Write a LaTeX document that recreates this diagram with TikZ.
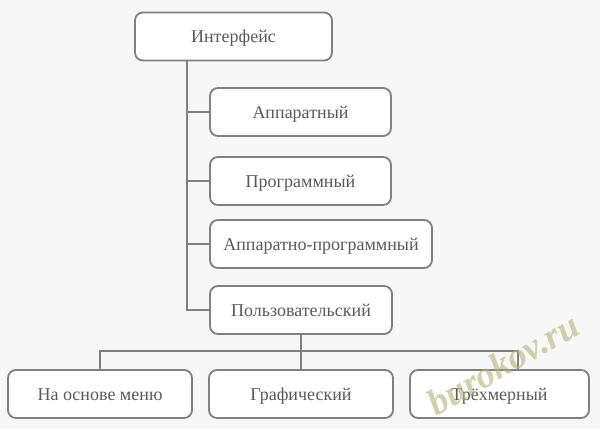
\documentclass[tikz,border=0pt]{standalone}
\usepackage{fontspec}
\setmainfont{Liberation Serif}
\definecolor{bg}{HTML}{F7F7F8}
\definecolor{edge}{HTML}{808080}
\definecolor{txt}{HTML}{5A5A5A}
\definecolor{wm}{HTML}{B4B27A}
\begin{document}
\begin{tikzpicture}[x=1pt,y=-1pt,
  box/.style={draw=edge, line width=1.8pt, fill=white, rounded corners=8pt,
    minimum height=48pt, inner sep=0pt, text=txt, text height=12pt, text depth=0pt,
    font=\fontsize{18}{20}\selectfont},
  conn/.style={draw=edge, line width=1.8pt}]
\fill[bg] (0,0) rectangle (600,429);
\useasboundingbox (0,0) rectangle (600,429);
\coordinate (trunk) at (187,0);
\coordinate (bus) at (301,351);
\coordinate (rd) at (518,370);
\node[box, minimum width=197pt] (intf) at (233.5,36.5) {Интерфейс};
\node[box, minimum width=181pt] (app) at (300.5,112) {Аппаратный};
\node[box, minimum width=181pt] (prog) at (300.5,181) {Программный};
\node[box, minimum width=222pt] (ap) at (321,244) {Аппаратно-программный};
\node[box, minimum width=182pt] (user) at (301,310) {Пользовательский};
\node[box, minimum width=184pt] (menu) at (100,394) {На основе меню};
\node[box, minimum width=184pt] (graph) at (301,394) {Графический};
\node[box, minimum width=179pt] (three) at (499.5,394) {Трёхмерный};
\draw[conn] (intf.south -| trunk) -- (trunk |- user.west) -- (user.west);
\draw[conn] (trunk |- app.west) -- (app.west);
\draw[conn] (trunk |- prog.west) -- (prog.west);
\draw[conn] (trunk |- ap.west) -- (ap.west);
\draw[conn] (user.south) -- (graph.north);
\draw[conn] (menu.north) |- (rd |- bus) -- (rd);
\node[text=wm, opacity=0.6, rotate=30, font=\fontsize{37}{40}\selectfont\bfseries\itshape] (mark) at (503,364) {burokov.ru};
\end{tikzpicture}
\end{document}
